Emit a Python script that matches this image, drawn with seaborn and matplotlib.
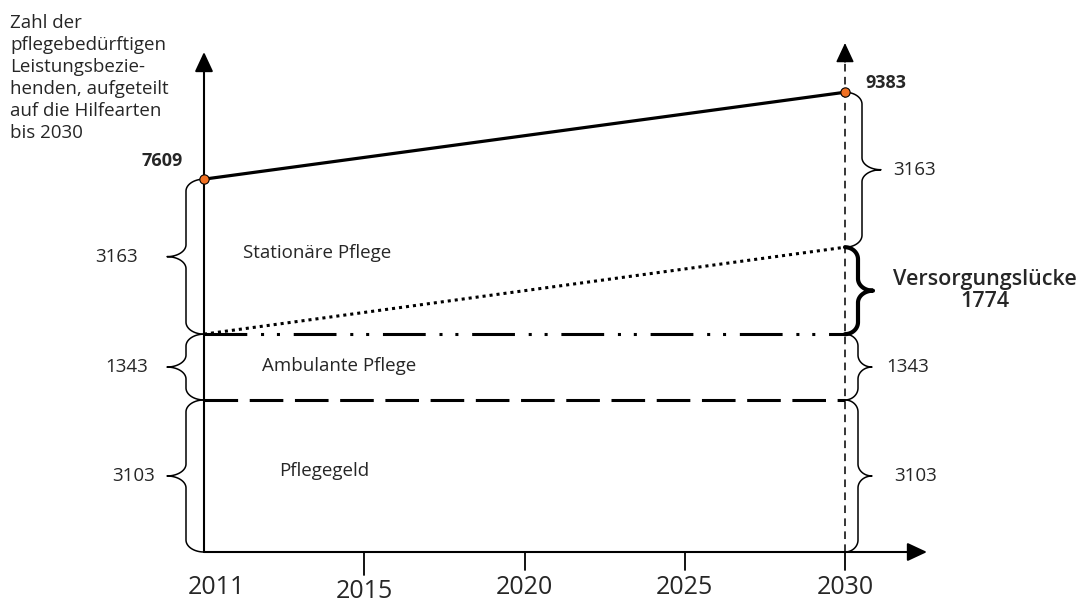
import numpy as np
import matplotlib
matplotlib.use("Agg")
import matplotlib.pyplot as plt
from matplotlib.patches import ArrowStyle
import seaborn as sns

sns.set_style("white")
plt.rcParams['font.family'] = ['Open Sans', 'DejaVu Sans']

# Werte aus der Grafik
jahre = [2011, 2015, 2020, 2025, 2030]
linien_jahre = [2011, 2030]
gesamt = [7609, 9383]
grenze_stationaer = [4446, 6220]     # gepunktet
grenze_ambulant = [4446, 4446]       # strich-punkt-punkt
grenze_pflegegeld = [3103, 3103]     # gestrichelt

pflegegeld = 3103
ambulant = 1343
stationaer = 3163
luecke = 1774

# Klammern links (2011) und rechts (2030): von, bis, Wert
klammern_2011 = [(4446, 7609, stationaer), (3103, 4446, ambulant), (0, 3103, pflegegeld)]
klammern_2030 = [(6220, 9383, stationaer), (3103, 4446, ambulant), (0, 3103, pflegegeld)]
luecke_bereich = (4446, 6220)

bereiche = ['Stationäre Pflege', 'Ambulante Pflege', 'Pflegegeld']
bereich_y = [6100, 3800, 1650]

titel = "Zahl der\npflegebedürftigen\nLeistungsbezie-\nhenden, aufgeteilt\nauf die Hilfearten\nbis 2030"

W, H = 1082, 605
fig = plt.figure(figsize=(W / 100, H / 100), dpi=100)
ax = fig.add_axes([0, 0, 1, 1])

pos = {j: i for i, j in enumerate(jahre)}
lx = [pos[j] for j in linien_jahre]

sns.lineplot(x=lx, y=gesamt, ax=ax, color='black', linewidth=2.3, zorder=4)
sns.lineplot(x=lx, y=grenze_stationaer, ax=ax, color='black', linewidth=2.2,
             linestyle=(0, (1, 1.3)), zorder=3)
sns.lineplot(x=lx, y=grenze_ambulant, ax=ax, color='black', linewidth=2.2,
             linestyle=(0, (14, 4.5, 1, 4.2, 1, 4.5)), zorder=3)
sns.lineplot(x=lx, y=grenze_pflegegeld, ax=ax, color='black', linewidth=2.2,
             linestyle=(0, (11, 3.8)), zorder=3)
sns.scatterplot(x=lx, y=gesamt, ax=ax, color='#F07022', edgecolor='black',
                linewidth=0.8, s=45, zorder=6)

# Pixelgeometrie
px_x = 160.25   # Pixel pro Jahresschritt
px_y = 0.049    # Pixel pro Person
x0_px, y0_px = 204, 53
ax.set_xlim(-x0_px / px_x, (W - x0_px) / px_x)
ax.set_ylim(-y0_px / px_y, (H - y0_px) / px_y)
ax.set_axis_off()

pfeil = ArrowStyle('-|>', head_length=0.6, head_width=0.28)
# x-Achse
ax.annotate('', xy=((927 - x0_px) / px_x, 0), xytext=(pos[2011], 0),
            arrowprops=dict(arrowstyle=pfeil, lw=1.5, color='black',
                            mutation_scale=20, shrinkA=0, shrinkB=0), zorder=5)
# y-Achse
ax.annotate('', xy=(pos[2011], 500 / px_y), xytext=(pos[2011], 0),
            arrowprops=dict(arrowstyle=pfeil, lw=1.5, color='black',
                            mutation_scale=20, shrinkA=0, shrinkB=0), zorder=5)
# gestrichelte Senkrechte 2030
ax.plot([pos[2030], pos[2030]], [0, 492 / px_y], color='black', lw=1.1,
        linestyle=(0, (5, 3.5)), zorder=2)
ax.annotate('', xy=(pos[2030], 509 / px_y), xytext=(pos[2030], 490 / px_y),
            arrowprops=dict(arrowstyle=pfeil, lw=1.1, color='black',
                            mutation_scale=20, shrinkA=0, shrinkB=0), zorder=5)

# Ticks und Jahreszahlen
for j in jahre[1:]:
    lang = 23 if j == 2015 else 18
    ax.plot([pos[j], pos[j]], [0, -lang / px_y], color='black', lw=1.3)
for j in jahre:
    dx = 12 if j == 2011 else 0
    dy = -40 if j == 2015 else -36
    ax.annotate(str(j), xy=(pos[j], 0), xytext=(dx, dy), textcoords='offset pixels',
                ha='center', va='center', fontsize=18)


def klammer(x, y_unten, y_oben, seite, w, t, lw=1.1):
    (xa, yb), (_, yt) = ax.transData.transform([(x, y_unten), (x, y_oben)])
    r = min(12, (yt - yb) / 4)
    ym = (yt + yb) / 2
    d = seite
    th = np.linspace(0, np.pi / 2, 25)
    p1 = np.c_[xa + d * w * np.sin(th), yt - r + r * np.cos(th)]
    p2 = np.c_[xa + d * (w + t) - d * t * np.cos(th), ym + r - r * np.sin(th)]
    p3 = np.c_[p2[::-1, 0], 2 * ym - p2[::-1, 1]]
    p4 = np.c_[p1[::-1, 0], 2 * ym - p1[::-1, 1]]
    pts = ax.transData.inverted().transform(np.vstack([p1, p2, p3, p4]))
    ax.plot(pts[:, 0], pts[:, 1], color='black', lw=lw,
            solid_capstyle='round', solid_joinstyle='round', zorder=5)
    return (y_unten + y_oben) / 2


links_dx = [-66, -56, -49]
for (u, o, v), dx in zip(klammern_2011, links_dx):
    ym = klammer(pos[2011], u, o, -1, 18, 19)
    ax.annotate(str(v), xy=(pos[2011], ym), xytext=(dx, 0), textcoords='offset pixels',
                ha='right', va='center', fontsize=13.5)

rechts = [(17, 19, 48), (13, 14, 41), (13, 14, 49)]
for (u, o, v), (w, t, dx) in zip(klammern_2030, rechts):
    ym = klammer(pos[2030], u, o, 1, w, t)
    ax.annotate(str(v), xy=(pos[2030], ym), xytext=(dx, 0), textcoords='offset pixels',
                ha='left', va='center', fontsize=13.5)

ym = klammer(pos[2030], luecke_bereich[0], luecke_bereich[1], 1, 13, 15, lw=3)
ax.annotate('Versorgungslücke\n' + str(luecke), xy=(pos[2030], ym), xytext=(140, 0),
            textcoords='offset pixels', ha='center', va='center', fontsize=15.5,
            fontweight='semibold', linespacing=1.1)

# Summen
ax.annotate(str(gesamt[0]), xy=(pos[2011], gesamt[0]), xytext=(-21, 18),
            textcoords='offset pixels', ha='right', va='center', fontsize=13,
            fontweight='bold')
ax.annotate(str(gesamt[1]), xy=(pos[2030], gesamt[1]), xytext=(20, 9),
            textcoords='offset pixels', ha='left', va='center', fontsize=13,
            fontweight='bold')

# Bereichsnamen
bereich_x = [(243 - x0_px) / px_x, (262 - x0_px) / px_x, (279 - x0_px) / px_x]
for name, bx, by in zip(bereiche, bereich_x, bereich_y):
    ax.text(bx, by, name, ha='left', va='center', fontsize=13.5)

fig.text(10 / W, 1 - 14 / H, titel, ha='left', va='top', fontsize=13.5, linespacing=1.28)

fig.savefig('out.png', dpi=100)
